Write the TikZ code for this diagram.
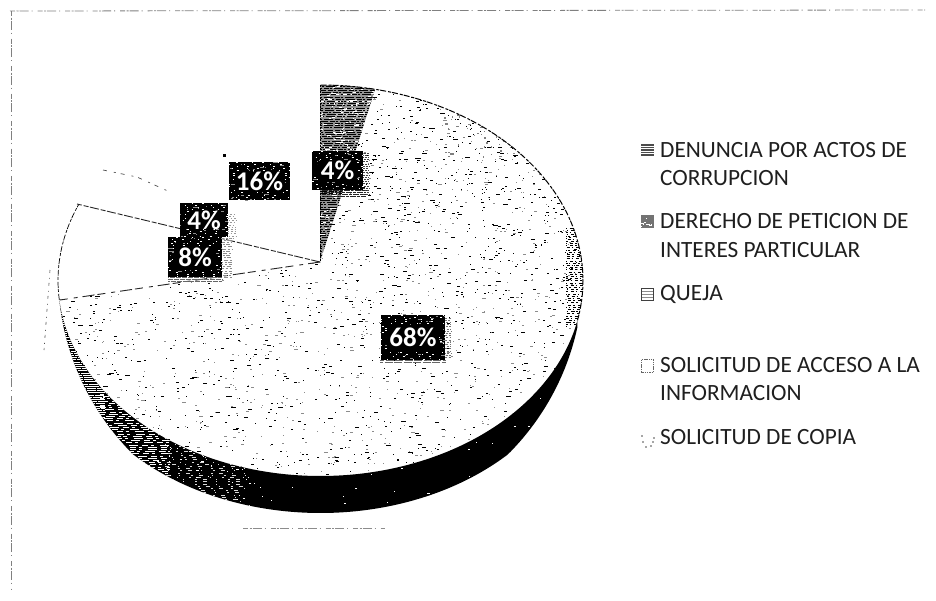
\documentclass[tikz,border=0pt]{standalone}
\usepackage{fontspec}
\setmainfont{Carlito}
\tikzset{
  legendtext/.style={anchor=base west,inner sep=0pt,font=\fontsize{23.3}{26}\selectfont,text=black!88},
  pcttext/.style={inner sep=0pt,text=white,font=\fontsize{27}{30}\selectfont\bfseries},
  scanline/.style={black!60,line width=.8pt,dash pattern=on 5pt off 1.5pt on 2pt off 1pt on 9pt off 3pt on 1pt off 5pt},
  rimline/.style={black,line width=1pt,dash pattern=on 6pt off 2pt on 3pt off 1pt},
  sliceline/.style={black!85,line width=.9pt,dash pattern=on 9pt off 1.5pt on 5pt off 2pt},
  faintline/.style={black!70,line width=.7pt,dash pattern=on 4pt off 7pt on 2pt off 5pt},
}
\newcommand{\specks}[8]{% count xmin xmax ymin ymax maxlen colour thickness
  \foreach \i in {1,...,#1}{%
    \pgfmathsetmacro\spx{#2+rnd*(#3-#2)}%
    \pgfmathsetmacro\spy{#4+rnd*(#5-#4)}%
    \pgfmathsetmacro\spl{0.8+rnd*rnd*#6}%
    \fill[#7] (\spx,\spy) rectangle (\spx+\spl,\spy+#8);%
  }%
}
\newcommand{\hatchband}[6]{% xmin xmax ymin ymax colour dash
  \pgfmathsetmacro\hbnext{#3+2.2}%
  \foreach \yy in {#3,\hbnext,...,#4}{%
    \pgfmathsetmacro\hbp{rnd*24}%
    \draw[#5,line width=1pt,dash pattern=#6,dash phase=\hbp pt] (#1,\yy) -- (#2,\yy);%
  }%
}
\newcommand{\pctbox}[6]{% name x1 y1 x2 y2 text
  \begin{scope}
    \fill[black] (#2,#3) rectangle (#4,#5);
    \clip (#2,#3) rectangle (#4,#5);
    \hatchband{#2}{#4}{#3}{#5}{white}{on 1pt off 9pt on 2pt off 14pt}
    \specks{35}{#2}{#4}{#3}{#5}{5}{black!45}{1}
  \end{scope}
  \fill[black] ({#2+6},{#3+10}) rectangle ({#4-6},{#5-8});
  \node[pcttext] (#1) at ({(#2+#4)/2},{(#3+#5)/2}) {#6};
}
\begin{document}
\begin{tikzpicture}[x=1pt,y=-1pt]
\useasboundingbox (0,0) rectangle (936,600);
\fill[white] (0,0) rectangle (936,600);
\pgfmathsetseed{4242}

% scan edges
\draw[scanline,black!50] (10,11) -- (925,10);
\draw[scanline,black!50] (11,11) -- (11,590);
\draw[scanline,black!45] (243,528) -- (385,528);

% side wall
\begin{scope}
  \clip plot[domain=12:174.3,samples=160] ({320.5+262.5*cos(\x)},{280.5+195.5*sin(\x)})
    -- plot[domain=174.3:12,samples=160] ({320.5+262.5*cos(\x)},{280.5+195.5*sin(\x)+37*min(1,(sin(\x)-.1)/.6)}) -- cycle;
  \fill[black] (50,290) rectangle (590,520);
  \hatchband{50}{105}{296}{440}{white}{on 9pt off 1pt on 14pt off 1pt}
  \hatchband{100}{170}{390}{490}{white}{on 6pt off 3pt on 3pt off 6pt on 9pt off 4pt}
  \hatchband{165}{245}{440}{512}{white!85!black}{on 2pt off 6pt on 4pt off 9pt on 1pt off 11pt}
  \specks{130}{240}{580}{320}{515}{2.5}{white}{1}
  \specks{90}{100}{250}{420}{510}{4}{white}{1}
\end{scope}

% 68% slice speckle
\begin{scope}
  \clip (320,262) -- plot[domain=-78:174.3,samples=160] ({320.5+262.5*cos(\x)},{280.5+195.5*sin(\x)}) -- cycle;
  \specks{1500}{58}{584}{85}{478}{5}{black}{1}
  \specks{1300}{58}{584}{85}{478}{3.5}{black!45}{1}
  \specks{260}{330}{584}{90}{300}{5}{black}{1}
  \hatchband{566}{586}{228}{325}{black}{on 1.5pt off 3pt on 3pt off 2pt}
  \specks{60}{440}{530}{105}{160}{3}{black!50}{1.5}
\end{scope}

% 4% wedge
\begin{scope}
  \clip (320,262) -- plot[domain=-90:-78,samples=12] ({320.5+262.5*cos(\x)},{280.5+195.5*sin(\x)}) -- cycle;
  \fill[black!42] (315,80) rectangle (380,265);
  \fill[black!30] (335,108) rectangle (372,117);
  \hatchband{318}{380}{86}{262}{black}{on 5pt off 1pt on 2pt off 2pt on 9pt off 2pt}
  \specks{320}{318}{380}{86}{262}{7}{white}{1}
\end{scope}

% outlines of the slices
\draw[rimline] plot[domain=-90:12,samples=70] ({320.5+262.5*cos(\x)},{280.5+195.5*sin(\x)});
\draw[rimline,line width=.7pt] plot[domain=174.3:203,samples=20] ({320.5+262.5*cos(\x)},{280.5+195.5*sin(\x)});
\draw[black,line width=1pt,dash pattern=on 2pt off 1pt] (320,85) -- (320,262);
\coordinate (apex) at (320,262);
\coordinate (rimA) at (60,300);
\coordinate (rimB) at (77,204);
\draw[sliceline,dash pattern=on 12pt off 5pt on 4pt off 6pt on 8pt off 3pt] (apex) -- (rimA);
\draw[sliceline] (apex) -- (rimB);
\draw[faintline] (103,170) -- (137,177) -- (170,192);
\draw[black!70,line width=.6pt,dash pattern=on 3pt off 5pt on 1pt off 4pt] (50,270) -- (44,350);
\fill[black] (223,154) rectangle (225.5,156.5);

% halos beside the labels
\begin{scope}
  \hatchband{218}{232}{238}{278}{black!45}{on 2pt off 1.5pt on 4pt off 2pt}
  \hatchband{168}{222}{277}{282}{black!60}{on 5pt off 1pt}
  \hatchband{228}{236}{214}{240}{black!40}{on 1.5pt off 2pt}
  \hatchband{362}{369}{153}{196}{black!75}{on 2pt off 1pt}
  \hatchband{322}{366}{190}{197}{black!85}{on 3pt off 1pt on 6pt off 1pt}
  \hatchband{444}{451}{318}{358}{black!55}{on 2pt off 1.5pt}
  \hatchband{380}{446}{360}{364}{black!60}{on 8pt off 1.5pt}
\end{scope}

% value labels
\pctbox{lblA}{312}{151}{363}{190}{4\%}
\pctbox{lblB}{229}{162}{290}{200}{16\%}
\pctbox{lblC}{180}{203}{228}{237}{4\%}
\pctbox{lblD}{168}{237}{222}{277}{8\%}
\pctbox{lblE}{381}{315}{445}{360}{68\%}

% legend
\begin{scope}
  \clip (641,144) rectangle (654,156);
  \fill[black!70] (641,144) rectangle (654,156);
  \foreach \yy in {146,148.5,151,153.5}{\draw[white,line width=.8pt] (641,\yy) -- (654,\yy);}
\end{scope}
\begin{scope}
  \clip (641,215) rectangle (654,228);
  \fill[black!55] (641,215) rectangle (654,228);
  \specks{14}{641}{654}{215}{228}{4}{white}{1}
\end{scope}
\begin{scope}
  \clip (641,288) rectangle (654,301);
  \draw[black!75,line width=1pt] (641.5,288.5) rectangle (653.5,300.5);
  \foreach \yy in {291,294,297}{\draw[black!45,line width=.8pt] (642,\yy) -- (653,\yy);}
\end{scope}
\draw[black!60,line width=.7pt,dash pattern=on 1.5pt off .8pt] (641.5,359.5) rectangle (653.5,372.5);
\foreach \dx/\dy in {641/435,642/441,645/446,650/445,653/437,652/441}{
  \fill[black!35] (\dx,\dy) rectangle (\dx+1.6,\dy+1.6);
}
\node[legendtext] (legA1) at (660,157) {DENUNCIA POR ACTOS DE};
\node[legendtext] (legA2) at (660,185) {CORRUPCION};
\node[legendtext] (legB1) at (660,228) {DERECHO DE PETICION DE};
\node[legendtext] (legB2) at (660,257) {INTERES PARTICULAR};
\node[legendtext] (legC) at (660,300) {QUEJA};
\node[legendtext] (legD1) at (660,372.5) {SOLICITUD DE ACCESO A LA};
\node[legendtext] (legD2) at (660,400.5) {INFORMACION};
\node[legendtext] (legE) at (660,444) {SOLICITUD DE COPIA};
\end{tikzpicture}
\end{document}
